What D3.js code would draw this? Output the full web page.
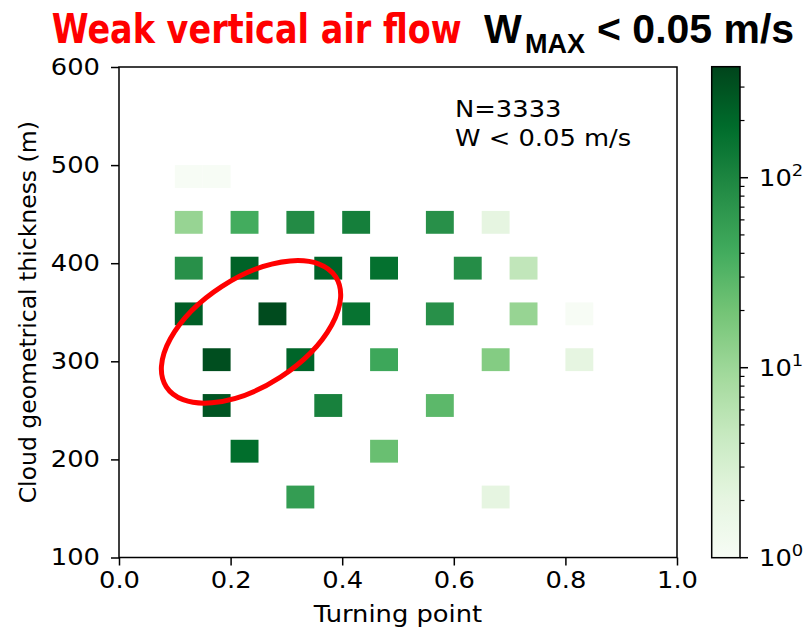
<!DOCTYPE html>
<html>
<head>
<meta charset="utf-8">
<script src="https://cdn.jsdelivr.net/npm/d3@7"></script>
<style>
  html, body { margin: 0; padding: 0; background: #fff; }
  svg { display: block; }
  text { font-family: "DejaVu Sans", sans-serif; fill: #000; }
</style>
</head>
<body>
<svg id="chart" width="805" height="630"></svg>
<script>
// ---- data ----
const xTicks = [0.0, 0.2, 0.4, 0.6, 0.8, 1.0];
const yTicks = [100, 200, 300, 400, 500, 600];
const cbarMajor = [1, 10, 100];
const cbarMinor = [2,3,4,5,6,7,8,9,20,30,40,50,60,70,80,90,200,300];
const tpBinWidth = 0.05;          // turning point bin width
const thBinHeight = 23.3;         // thickness bin height (m)
// lower-left corner of each non-empty bin (turning point, thickness) and its count
const cellTP = [0.10,0.15,
                0.10,0.20,0.30,0.40,0.55,0.65,
                0.10,0.20,0.35,0.45,0.60,0.70,
                0.10,0.25,0.40,0.55,0.70,0.80,
                0.15,0.30,0.45,0.65,0.80,
                0.15,0.35,0.55,
                0.20,0.45,
                0.30,0.65];
const cellTH = [476.7,476.7,
                430,430,430,430,430,430,
                383.3,383.3,383.3,383.3,383.3,383.3,
                336.7,336.7,336.7,336.7,336.7,336.7,
                290,290,290,290,290,
                243.3,243.3,243.3,
                196.7,196.7,
                150,150];
const cellN  = [1,1,
                11,40,87,117,77,2,
                77,224,220,167,82,5,
                240,340,158,77,11,1,
                320,212,45,15,2,
                285,110,28,
                180,23,
                57,2];
const countMax = 384;
const annotation = ["N=3333", "W < 0.05 m/s"];
const ellipseCenter = {tp: 0.2366, th: 330};

// ---- layout ----
const svg = d3.select("#chart");
const L = 119, R = 677, T = 67, B = 557.5;
const x = d3.scaleLinear().domain([0, 1]).range([L, R]);
const y = d3.scaleLinear().domain([100, 600]).range([B, T]);
const interp = d3.piecewise(d3.interpolateRgb, d3.schemeGreens[9]);
const color = d3.scaleSequentialLog(interp).domain([1, countMax]);

// ---- cells ----
const cells = cellN.map((n, i) => ({tp: cellTP[i], th: cellTH[i], n}));
svg.append("g").selectAll("rect").data(cells).join("rect")
  .attr("x", d => x(d.tp))
  .attr("y", d => y(d.th + thBinHeight))
  .attr("width", d => x(d.tp + tpBinWidth) - x(d.tp))
  .attr("height", d => y(d.th) - y(d.th + thBinHeight))
  .attr("fill", d => color(d.n));

// ---- ellipse annotation ----
svg.append("ellipse")
  .attr("cx", 0).attr("cy", 0).attr("rx", 101).attr("ry", 54)
  .attr("transform", `translate(${x(ellipseCenter.tp)},${y(ellipseCenter.th)}) rotate(-33)`)
  .attr("fill", "none").attr("stroke", "#ff0000").attr("stroke-width", 5);

// ---- frame ----
svg.append("rect").attr("x", L).attr("y", T).attr("width", R - L).attr("height", B - T)
  .attr("fill", "none").attr("stroke", "#000").attr("stroke-width", 1.5);

// ---- axes ----
const xAxis = d3.axisBottom(x).tickValues(xTicks).tickFormat(d3.format(".1f")).tickSize(8).tickPadding(6);
const gx = svg.append("g").attr("transform", `translate(0,${B})`).call(xAxis);
const yAxis = d3.axisLeft(y).tickValues(yTicks).tickFormat(d3.format("d")).tickSize(8).tickPadding(11);
const gy = svg.append("g").attr("transform", `translate(${L},0)`).call(yAxis);
[gx, gy].forEach(g => {
  g.select(".domain").remove();
  g.selectAll(".tick line").attr("stroke", "#000").attr("stroke-width", 1.5);
  g.selectAll(".tick text").attr("font-size", 23).attr("fill", "#000")
    .attr("font-family", "DejaVu Sans").classed("sx", true);
});

svg.append("text").attr("class", "sx")
  .attr("x", (L + R) / 2).attr("y", 622).attr("text-anchor", "middle")
  .attr("font-size", 23).text("Turning point");
svg.append("text")
  .attr("transform", `translate(36,${(T + B) / 2}) rotate(-90)`)
  .attr("text-anchor", "middle").attr("font-size", 23.5)
  .text("Cloud geometrical thickness (m)");

// annotation text
svg.append("g").selectAll("text").data(annotation).join("text").attr("class", "sx")
  .attr("x", 455).attr("y", (d, i) => 117 + i * 29).attr("font-size", 23).text(d => d);

// ---- colorbar ----
const cbL = 711.7, cbR = 740, cbT = 66.7, cbB = 557.7;
const cy = d3.scaleLog().domain([1, countMax]).range([cbB, cbT]);
const defs = svg.append("defs");
const grad = defs.append("linearGradient").attr("id", "cbgrad")
  .attr("x1", 0).attr("y1", 1).attr("x2", 0).attr("y2", 0);
d3.range(0, 1.0001, 0.02).forEach(t => {
  grad.append("stop").attr("offset", t).attr("stop-color", interp(t));
});
svg.append("rect").attr("x", cbL).attr("y", cbT).attr("width", cbR - cbL).attr("height", cbB - cbT)
  .attr("fill", "url(#cbgrad)").attr("stroke", "#000").attr("stroke-width", 1.5);
const cbg = svg.append("g");
cbg.selectAll("line.maj").data(cbarMajor).join("line").attr("class", "maj")
  .attr("x1", cbR).attr("x2", cbR + 8).attr("y1", d => cy(d)).attr("y2", d => cy(d))
  .attr("stroke", "#000").attr("stroke-width", 1.5);
cbg.selectAll("line.min").data(cbarMinor).join("line").attr("class", "min")
  .attr("x1", cbR).attr("x2", cbR + 4.5).attr("y1", d => cy(d)).attr("y2", d => cy(d))
  .attr("stroke", "#000").attr("stroke-width", 1.2);
const lab = cbg.selectAll("text").data(cbarMajor).join("text").attr("class", "sx")
  .attr("x", 759).attr("y", d => cy(d) + 8.5).attr("font-size", 23);
lab.append("tspan").text("10");
lab.append("tspan").attr("font-size", 16).attr("dy", -10).text(d => Math.round(Math.log10(d)));

// ---- title ----
const red = svg.append("text")
  .attr("font-family", "DejaVu Sans").attr("font-weight", "bold").attr("font-size", 33)
  .attr("fill", "#ff0000").style("fill", "#ff0000")
  .text("Weak vertical air flow");
const rw = red.node().getComputedTextLength();
red.attr("transform", `translate(51.7,43) scale(${410 / rw},${40 / 33})`);
const ff = "'Liberation Sans', Arial, sans-serif";
svg.append("text").attr("x", 484).attr("y", 43).attr("font-size", 40)
  .style("font-family", ff).style("font-weight", "bold").text("W");
svg.append("text").attr("x", 525).attr("y", 53).attr("font-size", 27)
  .style("font-family", ff).style("font-weight", "bold").text("MAX");
svg.append("text").attr("x", 597).attr("y", 43).attr("font-size", 41)
  .style("font-family", ff).style("font-weight", "bold").text("< 0.05 m/s");

// horizontal stretch of matplotlib texts
svg.selectAll("text.sx").each(function() {
  const w = this.getComputedTextLength();
  d3.select(this).attr("textLength", w * 1.12).attr("lengthAdjust", "spacingAndGlyphs");
});
</script>
</body>
</html>
